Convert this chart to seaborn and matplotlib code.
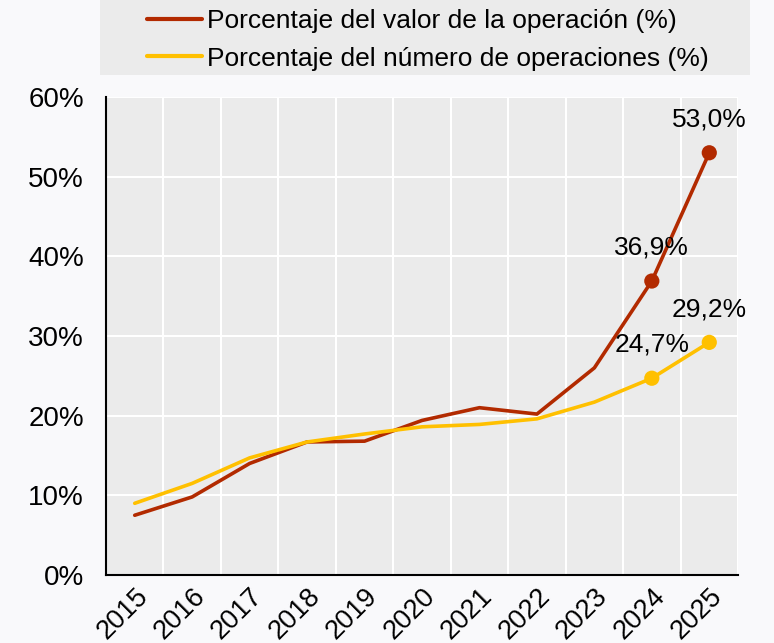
import pandas as pd
import matplotlib.pyplot as plt
import seaborn as sns
from matplotlib.patches import Rectangle

# Data
years = ['2015', '2016', '2017', '2018', '2019', '2020', '2021', '2022', '2023', '2024', '2025']
valor = [7.5, 9.8, 14.0, 16.7, 16.8, 19.4, 21.0, 20.2, 26.0, 36.9, 53.0]
numero = [9.0, 11.5, 14.7, 16.7, 17.7, 18.6, 18.9, 19.6, 21.7, 24.7, 29.2]
label_valor = 'Porcentaje del valor de la operación (%)'
label_numero = 'Porcentaje del número de operaciones (%)'
y_ticks = [0, 10, 20, 30, 40, 50, 60]

rows = []
for i, y in enumerate(years):
    rows.append({'pos': i, 'year': y, 'serie': label_valor, 'valor': valor[i]})
    rows.append({'pos': i, 'year': y, 'serie': label_numero, 'valor': numero[i]})
df = pd.DataFrame(rows)

colors = {label_valor: '#b22a00', label_numero: '#ffc000'}

sns.set_style('white')
plt.rcParams['font.family'] = ['Liberation Sans', 'DejaVu Sans']
plt.rcParams['text.color'] = 'black'
plt.rcParams['xtick.color'] = 'black'
plt.rcParams['ytick.color'] = 'black'

fig = plt.figure(figsize=(7.74, 6.43), dpi=100, facecolor='#f9f9fb')

# legend box background
fig.patches.append(Rectangle((100 / 774, 1 - 75 / 643), 650 / 774, 75 / 643,
                             transform=fig.transFigure, facecolor='#ebebeb',
                             edgecolor='none', zorder=-1))

ax = fig.add_axes([106 / 774, 1 - 575 / 643, 632 / 774, 478 / 643])
ax.set_facecolor('#ebebeb')

sns.lineplot(data=df, x='pos', y='valor', hue='serie', palette=colors,
             linewidth=2.6, ax=ax, legend=True)

# markers and labels on the last two years
last = df[df['pos'] >= 9]
sns.scatterplot(data=last, x='pos', y='valor', hue='serie', palette=colors,
                s=120, edgecolor='none', ax=ax, legend=False, zorder=5)
for _, r in last.iterrows():
    ax.annotate(f"{r['valor']:.1f}%".replace('.', ','), (r['pos'], r['valor']),
                xytext=(0, 24), textcoords='offset points', ha='center', va='center',
                fontsize=19, color='black')

ax.set_xlim(-0.5, len(years) - 0.5)
ax.set_ylim(0, 60)
ax.set_yticks(y_ticks)
ax.set_yticklabels([f'{t}%' for t in y_ticks], fontsize=20)
ax.set_xticks(range(len(years)))
ax.set_xticklabels(years, fontsize=19.5, rotation=45, ha='right', rotation_mode='anchor')
ax.set_xticks([i - 0.5 for i in range(len(years) + 1)], minor=True)
ax.tick_params(axis='x', which='major', length=0, pad=6)
ax.tick_params(axis='x', which='minor', direction='in', length=7, width=1.5, color='black')
ax.tick_params(axis='y', which='major', direction='in', length=7, width=1.5, color='black', pad=16)
ax.grid(True, which='minor', axis='x', color='white', linewidth=1.5)
ax.grid(True, which='major', axis='y', color='white', linewidth=1.5)
ax.set_axisbelow(True)
ax.set_xlabel('')
ax.set_ylabel('')

for s in ['top', 'right']:
    ax.spines[s].set_visible(False)
for s in ['left', 'bottom']:
    ax.spines[s].set_color('black')
    ax.spines[s].set_linewidth(1.5)

handles, labels = ax.get_legend_handles_labels()
ax.get_legend().remove()
leg = fig.legend(handles[:2], labels[:2], loc='center',
                 bbox_to_anchor=(428 / 774, 1 - 40 / 643),
                 fontsize=19, frameon=False, handlelength=2.1, handletextpad=0.2,
                 borderpad=0, labelspacing=0.5, borderaxespad=0)
for line in leg.get_lines():
    line.set_linewidth(3)

fig.savefig('out.png', dpi=100, facecolor=fig.get_facecolor())
